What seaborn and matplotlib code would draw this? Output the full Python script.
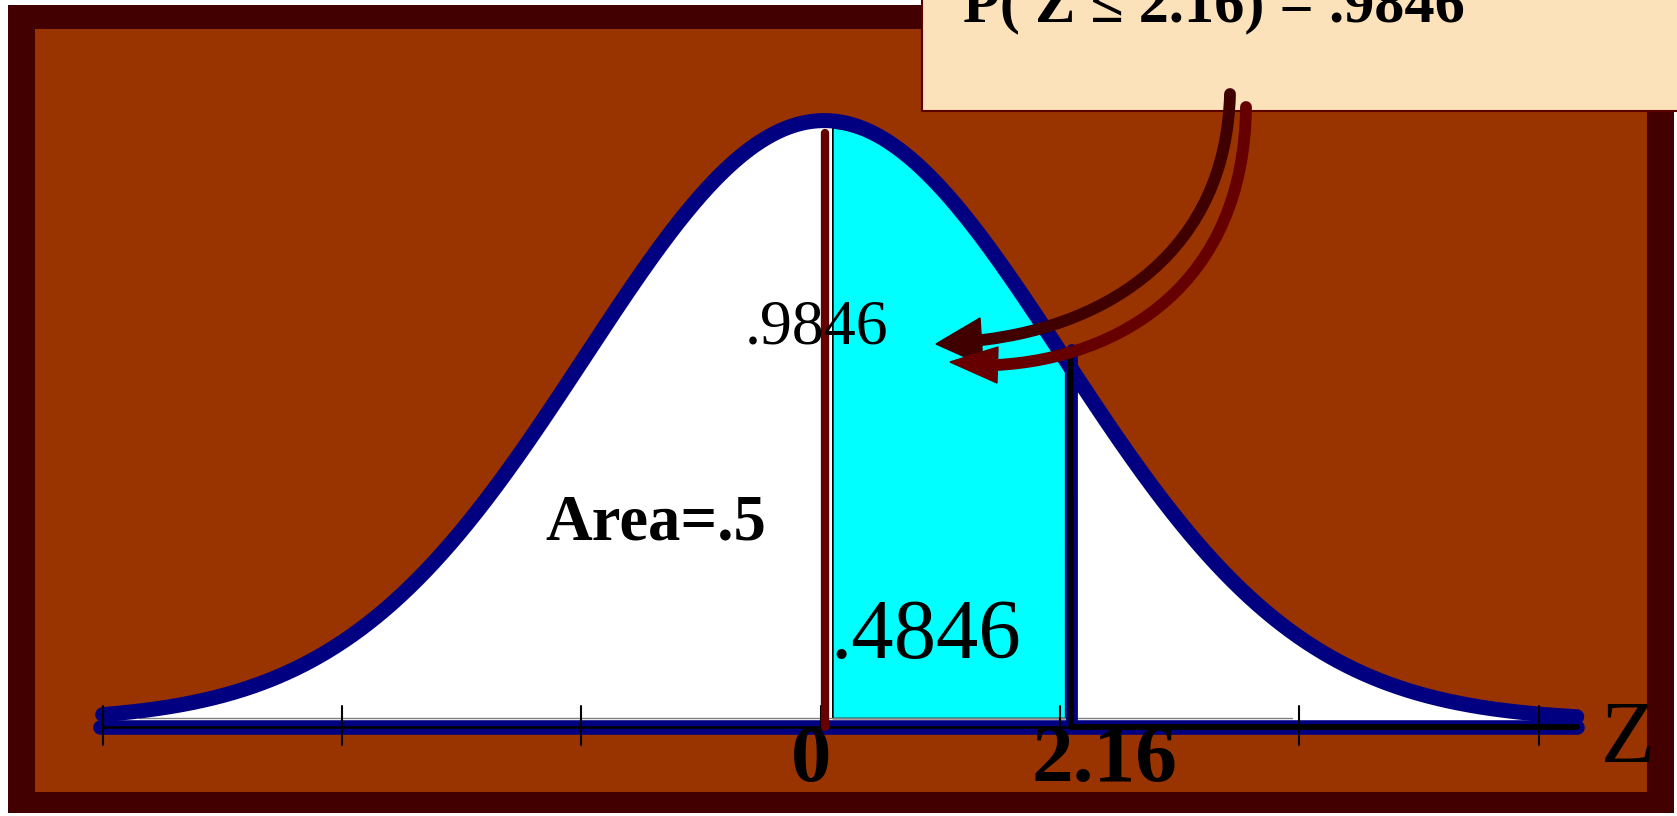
import numpy as np
import pandas as pd
import matplotlib
matplotlib.use("Agg")
import matplotlib.pyplot as plt
import seaborn as sns
from matplotlib.patches import Rectangle, Polygon, PathPatch
from matplotlib.path import Path

# ---------------- data ----------------
mean = 0.015
sd = 1.0
curve_range = [-3.0, 3.16]
tick_positions = [-3, -2, -1, 0, 1, 2, 3]
shade_start = 0.047          # drawn start of shaded area (z = 0)
shade_end = 1.025            # drawn position of the "2.16" boundary
zero_label = "0"
bound_label = "2.16"
left_area_label = "Area=.5"
shade_area_label = ".4846"
cum_label = ".9846"
prob_text = "P( Z \u2264 2.16) = .9846"
axis_name = "Z"

# ---------------- style ----------------
sns.set_theme(style="white")
plt.rcParams["font.family"] = ["Liberation Serif", "DejaVu Serif"]
plt.rcParams["text.color"] = "black"

W, H = 1677, 816
fig = plt.figure(figsize=(W / 100, H / 100), dpi=100)
fig.patch.set_facecolor("white")

# background (pixel coordinates)
bg = fig.add_axes([0, 0, 1, 1])
bg.set_xlim(0, W); bg.set_ylim(H, 0); bg.axis("off")
bg.add_patch(Rectangle((8, 5), 1666, 808, fc="#420000", ec="none"))
bg.add_patch(Rectangle((35, 29), 1612, 763, fc="#993300", ec="none"))

# curve axes (data coordinates)
ax = fig.add_axes([0, 0, 1, 1])
ax.patch.set_alpha(0)
ax.axis("off")
x0, sx = 820.6, 239.3
y0, sy = 721.0, 1505.0
ax.set_xlim((0 - x0) / sx, (W - x0) / sx)
ax.set_ylim((y0 - H) / sy, y0 / sy)

z = np.linspace(curve_range[0], curve_range[1], 900)
pdf = np.exp(-0.5 * ((z - mean) / sd) ** 2) / (sd * np.sqrt(2 * np.pi))
df = pd.DataFrame({"z": z, "density": pdf})
axis_y = -5.5 / sy

# white area under the curve
ax.fill_between(df["z"], axis_y, df["density"], color="white", lw=0, zorder=1)

# cyan shaded area
m = (df["z"] >= shade_start) & (df["z"] <= shade_end)
ax.fill_between(df["z"][m], 3.0 / sy, df["density"][m] - 6.5 / sy,
                facecolor="#00FFFF", edgecolor="black", lw=1.2, zorder=2)

# faint gray edge above axis
ax.plot([-2.85, 1.97], [3.0 / sy, 3.0 / sy], color="#808080", lw=1, zorder=2)

# boundary at "2.16": navy band with black line inside
ax.plot([shade_end + 0.025, shade_end + 0.025], [(y0 - 350) / sy, -4 / sy],
        color="#000080", lw=8.5, zorder=3)

# curve outline
sns.lineplot(data=df, x="z", y="density", ax=ax, color="#000080", lw=10.8,
             zorder=4, legend=False, sort=False)
ax.lines[-1].set_solid_capstyle("round")

# axis line
ax.plot([curve_range[0] - 0.01, curve_range[1]], [axis_y, axis_y], color="#000080",
        lw=10.5, solid_capstyle="round", zorder=5)
ax.plot([curve_range[0], curve_range[1]], [axis_y, axis_y], color="black",
        lw=1.8, zorder=6)
ax.plot([shade_end + 0.02, curve_range[1]], [axis_y, axis_y], color="black",
        lw=4.2, solid_capstyle="round", zorder=6)

# ticks
for t in tick_positions:
    ax.plot([t, t], [15 / sy, -24 / sy], color="black", lw=1.5, zorder=7)

# vertical lines
ax.plot([0.02, 0.02], [(y0 - 133) / sy, -6 / sy], color="#660000", lw=6, zorder=7)
ax.plot([shade_end + 0.02, shade_end + 0.022], [(y0 - 358) / sy, -6 / sy],
        color="black", lw=3.6, solid_capstyle="round", zorder=7)

# axis labels
ax.text(-0.038, (y0 - 781) / sy, zero_label, ha="center", va="baseline",
        fontsize=58, fontweight="bold", zorder=8)
ax.text(1.188, (y0 - 781) / sy, bound_label, ha="center", va="baseline",
        fontsize=60, fontweight="bold", zorder=8)

# overlay (pixel coordinates)
ov = fig.add_axes([0, 0, 1, 1])
ov.patch.set_alpha(0)
ov.set_xlim(0, W); ov.set_ylim(H, 0); ov.axis("off")

ov.text(545, 540, left_area_label, ha="left", va="baseline", fontsize=46.5,
        fontweight="bold", zorder=8)
ov.text(745, 344, cum_label, ha="left", va="baseline", fontsize=46, zorder=8)
ov.text(830, 658, shade_area_label, ha="left", va="baseline", fontsize=61, zorder=8)
ov.text(1601, 762, axis_name, ha="left", va="baseline", fontsize=63.5, zorder=8)

# callout box
ov.add_patch(Rectangle((922, -10), 800, 121, fc="#FCE2BA", ec="#5a0000", lw=1.5, zorder=3))
ov.text(963, 21, prob_text, ha="left", va="baseline", fontsize=43.5,
        fontweight="bold", zorder=4)

# curved arrows
def arrow(p0, p1, p2, p3, tip, c1, c2, color):
    path = Path([p0, p1, p2, p3], [Path.MOVETO, Path.CURVE4, Path.CURVE4, Path.CURVE4])
    ov.add_patch(PathPatch(path, fc="none", ec=color, lw=8.5, capstyle="round", zorder=5))
    ov.add_patch(Polygon([tip, c1, c2], closed=True, fc=color, ec=color, lw=1, zorder=5))

arrow((1230, 94), (1226, 250), (1110, 325), (982, 340), (936, 344), (980, 318), (983, 365), "#400000")
arrow((1246, 107), (1244, 285), (1120, 358), (997, 365), (950, 362), (998, 347), (997, 383), "#660000")

fig.savefig("out.png", dpi=100)
